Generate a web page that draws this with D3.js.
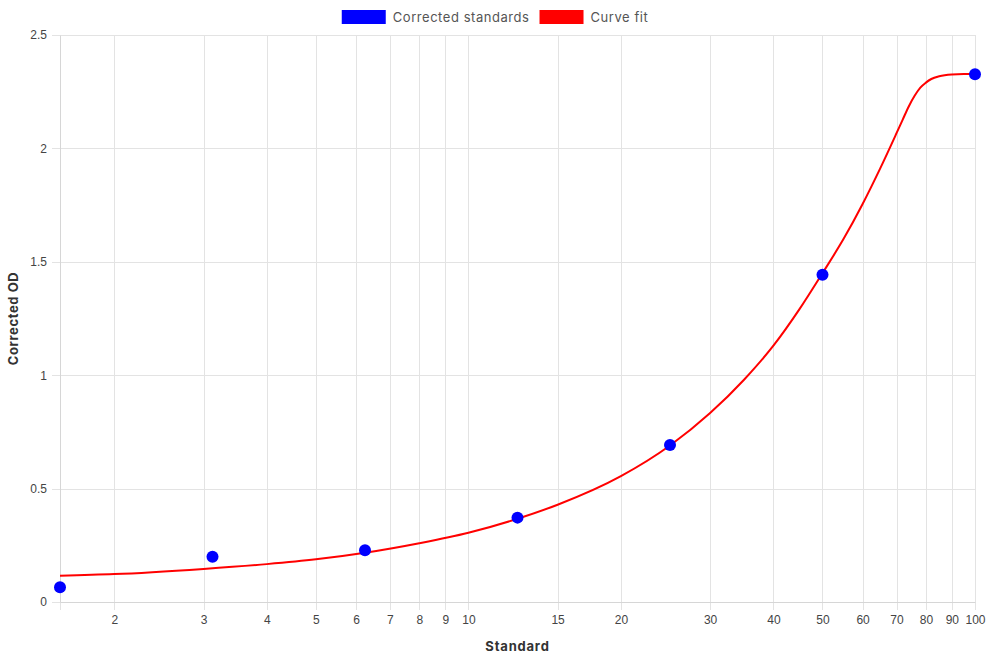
<!DOCTYPE html>
<html>
<head>
<meta charset="utf-8">
<script src="https://cdn.jsdelivr.net/npm/d3@7"></script>
<style>
  body { margin: 0; background: #fff; }
  svg { display: block; }
</style>
</head>
<body>
<div id="chart"></div>
<script>
// standards (x) and their corrected OD readings
const standards = [1.5625, 3.125, 6.25, 12.5, 25, 50, 100]
const correctedOD = [0.065, 0.2, 0.228, 0.372, 0.692, 1.443, 2.327]

// curve fit
const fitX = [1.5625, 2, 3, 4, 5, 6.25, 8, 10, 12.5, 15, 20, 25, 30, 35, 40, 45, 50, 55, 60, 65, 70, 72, 74, 76, 78, 80, 82, 85, 90, 95, 100]
const fitY = [0.116, 0.123, 0.146, 0.167, 0.188, 0.217, 0.259, 0.305, 0.367, 0.429, 0.555, 0.69, 0.833, 0.98, 1.13, 1.29, 1.45, 1.6, 1.755, 1.912, 2.067, 2.127, 2.185, 2.232, 2.268, 2.29, 2.306, 2.318, 2.326, 2.328, 2.328]

const xTicks = [2, 3, 4, 5, 6, 7, 8, 9, 10, 15, 20, 30, 40, 50, 60, 70, 80, 90, 100]
const yTicks = [0, 0.5, 1, 1.5, 2, 2.5]

const width = 990
const height = 660
const margin = { top: 35, right: 15, bottom: 58, left: 60 }
const gridColor = '#e3e3e3'
const titleFont = 'Inter, "Noto Sans", sans-serif'
const tickFont = '"Liberation Sans", Arial, sans-serif'

const svg = d3.select('#chart').append('svg')
  .attr('width', width)
  .attr('height', height)

const x = d3.scaleLog()
  .domain([1.5625, 100])
  .range([margin.left, width - margin.right])

const y = d3.scaleLinear()
  .domain([0, 2.5])
  .range([height - margin.bottom, margin.top])

// vertical grid lines (plus the left edge)
const xGridVals = [1.5625].concat(xTicks)
svg.append('g').selectAll('line')
  .data(xGridVals)
  .join('line')
  .attr('x1', d => Math.round(x(d)) + 0.5)
  .attr('x2', d => Math.round(x(d)) + 0.5)
  .attr('y1', margin.top)
  .attr('y2', y(0) + 8)
  .attr('stroke', gridColor)

// horizontal grid lines
svg.append('g').selectAll('line')
  .data(yTicks)
  .join('line')
  .attr('x1', margin.left - 8)
  .attr('x2', width - margin.right)
  .attr('y1', d => Math.round(y(d)) + 0.5)
  .attr('y2', d => Math.round(y(d)) + 0.5)
  .attr('stroke', gridColor)

// x axis labels
const xAxis = d3.axisBottom(x)
  .tickValues(xTicks)
  .tickFormat(d3.format('d'))
  .tickSize(0)
  .tickPadding(13)

svg.append('g')
  .attr('transform', `translate(0,${y(0)})`)
  .call(xAxis)
  .call(g => g.select('.domain').attr('stroke', '#d6d6d6'))
  .call(g => g.selectAll('text')
    .attr('font-family', tickFont)
    .attr('font-size', 12)
    .attr('fill', '#444'))

// y axis labels
const yAxis = d3.axisLeft(y)
  .tickValues(yTicks)
  .tickFormat(d => d3.format('')(d))
  .tickSize(0)
  .tickPadding(13)

svg.append('g')
  .attr('transform', `translate(${margin.left},0)`)
  .call(yAxis)
  .call(g => g.select('.domain').attr('stroke', '#d6d6d6'))
  .call(g => g.selectAll('text')
    .attr('font-family', tickFont)
    .attr('font-size', 12)
    .attr('fill', '#444'))

// axis titles
svg.append('text')
  .attr('x', (margin.left + width - margin.right) / 2)
  .attr('y', 651)
  .attr('text-anchor', 'middle')
  .attr('font-family', titleFont)
  .attr('font-weight', 'bold')
  .attr('font-size', 13)
  .attr('letter-spacing', 0.8)
  .attr('fill', '#333')
  .text('Standard')

svg.append('text')
  .attr('transform', `translate(18,${(margin.top + height - margin.bottom) / 2}) rotate(-90)`)
  .attr('text-anchor', 'middle')
  .attr('font-family', titleFont)
  .attr('font-weight', 'bold')
  .attr('font-size', 13)
  .attr('letter-spacing', 0.6)
  .attr('fill', '#333')
  .text('Corrected OD')

// curve fit line
const fitData = fitX.map((v, i) => [v, fitY[i]])
const line = d3.line()
  .x(d => x(d[0]))
  .y(d => y(d[1]))
  .curve(d3.curveMonotoneX)

svg.append('path')
  .datum(fitData)
  .attr('fill', 'none')
  .attr('stroke', '#ff0000')
  .attr('stroke-width', 2)
  .attr('d', line)

// standards points
svg.append('g').selectAll('circle')
  .data(standards.map((v, i) => [v, correctedOD[i]]))
  .join('circle')
  .attr('cx', d => x(d[0]))
  .attr('cy', d => y(d[1]))
  .attr('r', 6)
  .attr('fill', '#0000ff')

// legend
const legendItems = [
  { label: 'Corrected standards', color: '#0000ff' },
  { label: 'Curve fit', color: '#ff0000' }
]
const legend = svg.append('g')
  .attr('font-family', titleFont)
  .attr('font-size', 13)
  .attr('letter-spacing', 0.55)
let lx = 0
legendItems.forEach(item => {
  const g = legend.append('g').attr('transform', `translate(${lx},0)`)
  g.append('rect')
    .attr('x', 0).attr('y', 10)
    .attr('width', 44).attr('height', 14)
    .attr('fill', item.color)
  const t = g.append('text')
    .attr('x', 51).attr('y', 21.5)
    .attr('fill', '#555')
    .text(item.label)
  lx += 51 + t.node().getComputedTextLength() + 10
})
const totalW = lx - 10
legend.attr('transform', `translate(${(width - totalW) / 2},0)`)
</script>
</body>
</html>
